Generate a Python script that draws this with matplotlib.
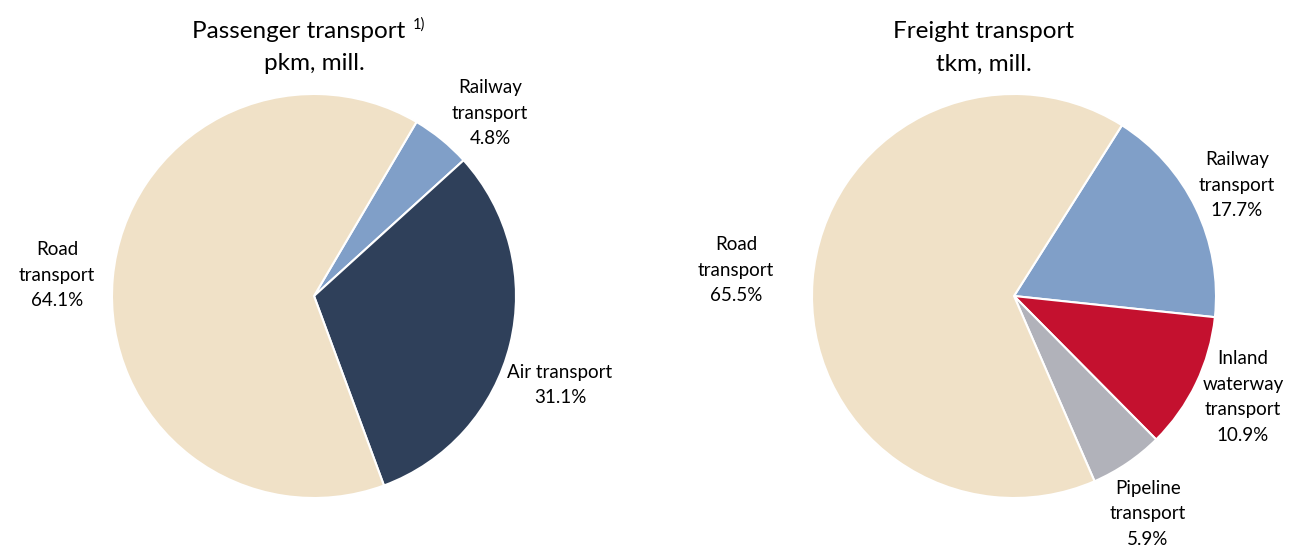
import matplotlib
matplotlib.use("Agg")
import matplotlib.pyplot as plt

plt.rcParams["font.family"] = ["Lato", "DejaVu Sans"]

## Passenger transport shares (%), clockwise from the railway slice
pass_labels = ["Railway\ntransport", "Air transport", "Road\ntransport"]
pass_values = [4.8, 31.1, 64.1]
pass_colors = ["#809FC8", "#2F405A", "#F0E1C7"]

## Freight transport shares (%)
frt_labels = ["Railway\ntransport", "Inland\nwaterway\ntransport", "Pipeline\ntransport", "Road\ntransport"]
frt_values = [17.7, 10.9, 5.9, 65.5]
frt_colors = ["#809FC8", "#C4112F", "#B1B2BA", "#F0E1C7"]

W, H = 1295, 550
fig = plt.figure(figsize=(W / 100, H / 100), dpi=100)

R = 202  # pie radius in pixels
half = 1.2 * R


def make_axes(cx, cy):
    ax = fig.add_axes([(cx - half) / W, (H - cy - half) / H, 2 * half / W, 2 * half / H])
    return ax


def finish_axes(ax):
    ax.set_xlim(-1.2, 1.2)
    ax.set_ylim(-1.2, 1.2)
    ax.set_aspect("equal")
    ax.axis("off")


def px(x, y):
    return x / W, 1 - y / H


ax1 = make_axes(314, 296)
ax1.pie(pass_values, colors=pass_colors, startangle=59.5, counterclock=False,
        radius=1, wedgeprops=dict(edgecolor="white", linewidth=1.5))
finish_axes(ax1)

ax2 = make_axes(1014, 296)
ax2.pie(frt_values, colors=frt_colors, startangle=57.7, counterclock=False,
        radius=1, wedgeprops=dict(edgecolor="white", linewidth=1.5))
finish_axes(ax2)

## Titles
fs_title = 17.5
fig.text(*px(299, 31), "Passenger transport", ha="center", va="center", fontsize=fs_title)
fig.text(*px(419, 25), "1)", ha="center", va="center", fontsize=10.5)
fig.text(*px(314, 64), "pkm, mill.", ha="center", va="center", fontsize=fs_title)
fig.text(*px(984, 31), "Freight transport", ha="center", va="center", fontsize=fs_title)
fig.text(*px(984, 64), "tkm, mill.", ha="center", va="center", fontsize=fs_title)

## Slice labels
fs = 13.5
ls = 1.62
pass_pos = [(490, 113), (560, 385), (57, 275)]
for lab, val, (x, y) in zip(pass_labels, pass_values, pass_pos):
    fig.text(*px(x, y), f"{lab}\n{val:.1f}%", ha="center", va="center",
             fontsize=fs, linespacing=ls)

frt_pos = [(1237, 185), (1243, 397), (1148, 514), (736, 270)]
for lab, val, (x, y) in zip(frt_labels, frt_values, frt_pos):
    fig.text(*px(x, y), f"{lab}\n{val:.1f}%", ha="center", va="center",
             fontsize=fs, linespacing=ls)

fig.savefig("out.png", dpi=100, facecolor="white")
